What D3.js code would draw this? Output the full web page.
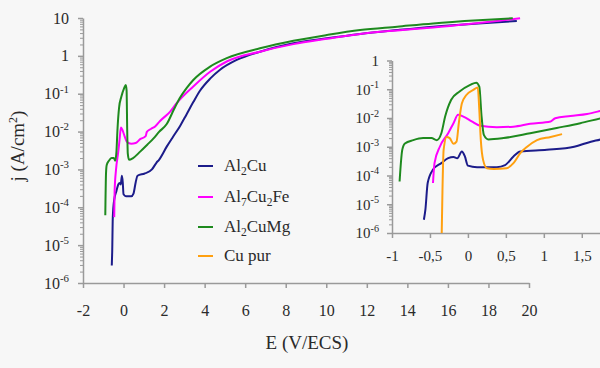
<!DOCTYPE html>
<html><head><meta charset="utf-8">
<script src="https://cdn.jsdelivr.net/npm/d3@7"></script>
<style>body{margin:0;background:#f7f7f7;} svg{display:block;background:#f7f7f7;}
svg text{font-family:"Liberation Serif","DejaVu Serif","Times New Roman",serif !important;}</style>
</head><body><svg id="c" width="600" height="368"></svg>
<script>
// ---------- data ----------
const xTicksMain = [-2,0,2,4,6,8,10,12,14,16,18,20];
const yDecadesMain = [-6,-5,-4,-3,-2,-1,0,1];
const xTicksInset = [-1,-0.5,0,0.5,1,1.5];
const xTickLabelsInset = ["-1","-0,5","0","0,5","1","1,5"];
const yDecadesInset = [-6,-5,-4,-3,-2,-1,0];
const seriesNames = ["Al2Cu","Al7Cu2Fe","Al2CuMg","Cu pur"];
const seriesColors = ["#1c1c8a","#ff00ff","#1e8a1e","#ffa010"];
const xTitle = "E (V/ECS)";

const al2cuE = [-0.58,-0.56,-0.53,-0.46,-0.35,-0.26,-0.19,-0.14,-0.08,-0.04,0.00,0.12,0.38,0.49,0.60,0.69,1.04,1.40,1.62,1.75,2.13,2.45,2.79,3.10,3.44,3.77,4.27,4.76,5.58,6.73,8.38,10.02,11.67,13.5,15.27,17.5,19.4];
const al2cuJ = [2.9e-6,6.5e-6,5.5e-5,1.6e-4,2.7e-4,4.0e-4,4.4e-4,4.0e-4,6.8e-4,4.6e-4,2.2e-4,1.95e-4,1.95e-4,2.3e-4,4.6e-4,6.8e-4,7.8e-4,1.0e-3,1.5e-3,1.8e-3,4.0e-3,7.4e-3,0.0141,0.028,0.060,0.120,0.25,0.43,0.78,1.29,2.14,2.9,3.8,4.8,5.9,7.2,8.3];

const al7cu2feE = [-0.46,-0.44,-0.37,-0.26,-0.19,-0.13,-0.06,0.05,0.16,0.38,0.60,0.82,1.09,1.15,1.35,1.57,1.80,2.29,2.62,3.44,4.27,5.09,6.73,8.38,10.02,11.67,13.5,15.27,17.5,19.56];
const al7cu2feJ = [5.5e-5,2.7e-4,1.0e-3,2.95e-3,6.6e-3,0.0129,0.0112,7.6e-3,5.4e-3,4.8e-3,5.0e-3,6.3e-3,7.6e-3,9.8e-3,0.0117,0.0138,0.019,0.033,0.056,0.155,0.38,0.71,1.29,2.04,2.82,3.8,4.7,5.6,7.4,9.8];

const al2cumgE = [-0.90,-0.865,-0.83,-0.72,-0.59,-0.48,-0.41,-0.35,-0.30,-0.22,-0.11,0.03,0.11,0.15,0.18,0.21,0.27,0.47,0.82,1.17,1.48,1.75,2.13,2.50,2.79,3.10,3.44,4.27,5.09,6.73,8.38,10.02,11.67,13.5,15.27,17.5,19.2];
const al2cumgJ = [6.2e-5,7.8e-4,1.3e-3,1.7e-3,2.0e-3,2.0e-3,1.7e-3,2.95e-3,0.0112,0.043,0.083,0.141,0.17,0.123,0.0112,2.6e-3,1.8e-3,2.0e-3,2.95e-3,4.5e-3,6.6e-3,9.8e-3,0.0158,0.040,0.079,0.138,0.23,0.52,0.87,1.58,2.5,3.55,4.8,5.9,7.2,8.7,9.8];

const cupurE = [-0.345,-0.335,-0.32,-0.28,-0.24,-0.19,-0.15,-0.12,-0.08,-0.02,0.07,0.13,0.15,0.17,0.20,0.25,0.34,0.51,0.60,0.69,0.78,0.91,1.09,1.24];
const cupurJ = [1.0e-6,3.2e-5,7.8e-4,2.2e-3,2.0e-3,1.26e-3,1.5e-3,6.6e-3,0.032,0.063,0.095,0.115,0.019,1.7e-3,3.5e-4,1.8e-4,1.7e-4,1.8e-4,2.7e-4,6.0e-4,1.0e-3,1.7e-3,2.2e-3,2.75e-3];

const seriesE = [al2cuE, al7cu2feE, al2cumgE, cupurE];
const seriesJ = [al2cuJ, al7cu2feJ, al2cumgJ, cupurJ];
const inMain = [true,true,true,false];

// ---------- drawing ----------
const svg = d3.select("#c");
const FONT = "Liberation Serif";
const AX = "#9a9a9a", TXT = "#2a2a2a";

function supLabel(sel, base, sup, size){
  sel.text(null);
  sel.append("tspan").text(base);
  if(sup!==null) sel.append("tspan").attr("dy", -size*0.42).attr("font-size", size*0.68).text(sup);
}
function subText(sel, str, size){
  const parts = str.match(/\d+|[^\d]+/g);
  let shifted=false;
  parts.forEach(p=>{
    const isD = /^\d+$/.test(p);
    const t = sel.append("tspan").text(p);
    if(isD){ t.attr("font-size", size*0.68).attr("dy", size*0.25); shifted=true; }
    else if(shifted){ t.attr("dy", -size*0.25); shifted=false; }
  });
}
function minorTicks(decs){
  const out=[];
  for(let i=0;i<decs.length-1;i++) for(let k=2;k<=9;k++) out.push(k*Math.pow(10,decs[i]));
  return out;
}

function drawPanel(o){
  const g = svg.append("g");
  const xa = g.append("g").attr("transform",`translate(0,${o.y.range()[0]})`)
    .call(d3.axisBottom(o.x).tickValues(o.xTicks).tickSize(5).tickSizeOuter(0).tickFormat((d,i)=>o.xLabels[i]));
  xa.attr("font-family",null);
  xa.select(".domain").attr("stroke",AX).attr("stroke-width",1.5);
  xa.selectAll(".tick line").attr("stroke",AX).attr("stroke-width",1.5);
  xa.selectAll(".tick text").attr("font-size",o.fs).attr("fill",TXT).attr("dy",o.xdy);
  const majors = o.decs.map(d=>Math.pow(10,d));
  const ya = g.append("g").attr("transform",`translate(${o.x.range()[0]},0)`)
    .call(d3.axisLeft(o.y).tickValues(majors).tickSize(5).tickSizeOuter(0).tickFormat(""));
  ya.select(".domain").attr("stroke",AX).attr("stroke-width",1.5);
  ya.selectAll(".tick line").attr("stroke",AX).attr("stroke-width",1.5);
  const ym = g.append("g").attr("transform",`translate(${o.x.range()[0]},0)`)
    .call(d3.axisLeft(o.y).tickValues(minorTicks(o.decs)).tickSize(3).tickFormat(""));
  ym.select(".domain").remove();
  ym.selectAll(".tick line").attr("stroke",AX).attr("stroke-width",1);
  o.decs.forEach(d=>{
    const t = g.append("text").attr("x",o.x.range()[0]-o.ylOff).attr("y",o.y(Math.pow(10,d))+o.fs*0.35)
      .attr("text-anchor","end").attr("font-size",o.fs).attr("fill",TXT);
    if(d===0) supLabel(t,"1",null,o.fs);
    else if(d===1) supLabel(t,"10",null,o.fs);
    else supLabel(t,"10",String(d),o.fs);
  });
  const cid = "clip"+o.id;
  svg.append("clipPath").attr("id",cid).append("rect")
    .attr("x",o.x.range()[0]).attr("y",o.y.range()[1]-2)
    .attr("width",o.x.range()[1]-o.x.range()[0]).attr("height",o.y.range()[0]-o.y.range()[1]+3);
  const line = d3.line().x(d=>o.x(d[0])).y(d=>o.y(d[1])).curve(d3.curveMonotoneX);
  const lg = g.append("g").attr("clip-path",o.clip?`url(#${cid})`:null);
  o.series.forEach(i=>{
    const pts = seriesE[i].map((e,k)=>[e,seriesJ[i][k]]);
    lg.append("path").attr("d",line(pts)).attr("fill","none")
      .attr("stroke",seriesColors[i]).attr("stroke-width",o.lw).attr("stroke-linejoin","round");
  });
}

drawPanel({id:"m", x:d3.scaleLinear([-2,20],[83,529]), y:d3.scaleLog([1e-6,10],[283,18]),
  xTicks:xTicksMain, xLabels:xTicksMain.map(String), decs:yDecadesMain, fs:16, xdy:"1.55em", ylOff:14,
  series:[0,1,2].filter(i=>inMain[i]), lw:2, clip:false});
drawPanel({id:"i", x:d3.scaleLinear([-1,1.74],[392,600]), y:d3.scaleLog([1e-6,1],[233,60.5]),
  xTicks:xTicksInset, xLabels:xTickLabelsInset, decs:yDecadesInset, fs:15, xdy:"1.35em", ylOff:13,
  series:[0,1,2,3], lw:2, clip:true});

svg.append("text").attr("x",307).attr("y",349).attr("text-anchor","middle")
  .attr("font-size",19).attr("fill",TXT).text(xTitle);
const yt = svg.append("text").attr("transform","translate(24,146) rotate(-90)").attr("text-anchor","middle")
  .attr("font-size",19).attr("fill",TXT);
yt.append("tspan").text("j (A/cm");
yt.append("tspan").attr("dy",-7).attr("font-size",12).text("2");
yt.append("tspan").attr("dy",7).text(")");

const legY = [166,197,227,256];
seriesNames.forEach((n,i)=>{
  svg.append("line").attr("x1",198).attr("x2",213).attr("y1",legY[i]).attr("y2",legY[i])
    .attr("stroke",seriesColors[i]).attr("stroke-width",2);
  const t = svg.append("text").attr("x",224).attr("y",legY[i]+5)
    .attr("font-size",17).attr("fill",TXT);
  subText(t,n,17);
});
</script></body></html>
